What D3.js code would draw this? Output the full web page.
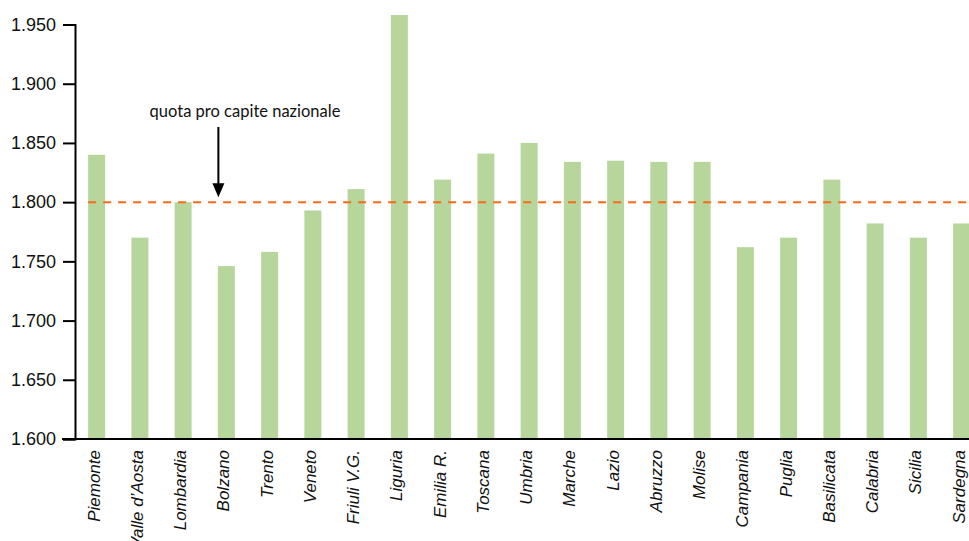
<!DOCTYPE html>
<html>
<head>
<meta charset="utf-8">
<script src="https://cdn.jsdelivr.net/npm/d3@7"></script>
<style>
	body { margin: 0; background: #fff; }
	svg { display: block; font-family: Lato, "Open Sans", sans-serif; }
</style>
</head>
<body>
<script>
/*--data--*/
var regioni = ["Piemonte", "Valle d\u2019Aosta", "Lombardia", "Bolzano", "Trento", "Veneto", "Friuli V.G.",
	"Liguria", "Emilia R.", "Toscana", "Umbria", "Marche", "Lazio", "Abruzzo", "Molise",
	"Campania", "Puglia", "Basilicata", "Calabria", "Sicilia", "Sardegna"];
var quota = [1840, 1770, 1800, 1746, 1758, 1793, 1811, 1958, 1819, 1841, 1850, 1834, 1835, 1834, 1834,
	1762, 1770, 1819, 1782, 1770, 1782];
var quota_nazionale = 1800;
var y_ticks = [1600, 1650, 1700, 1750, 1800, 1850, 1900, 1950];
var nota = "quota pro capite nazionale";

/*--chart--*/
var width = 969, height = 541;
var left = 75, top_y = 24.5, bottom_y = 439;

var it = d3.formatLocale({ decimal: ",", thousands: ".", grouping: [3], currency: ["€", ""] });

var svg = d3.select("body").append("svg")
	.attr("width", width)
	.attr("height", height);

var x = d3.scaleBand()
	.domain(regioni)
	.range([left, left + regioni.length * 43.25])
	.paddingInner(0.607)
	.paddingOuter(0.3035);

var y = d3.scaleLinear()
	.domain([1600, 1950])
	.range([bottom_y, top_y]);

//bars
svg.append("g").selectAll("rect")
	.data(regioni)
	.enter().append("rect")
	.attr("x", function (d) { return x(d); })
	.attr("y", function (d, i) { return y(quota[i]); })
	.attr("width", x.bandwidth())
	.attr("height", function (d, i) { return bottom_y - y(quota[i]); })
	.style("fill", "#b7d69b");

//dashed national line
svg.append("line")
	.attr("x1", x(regioni[0]))
	.attr("x2", width)
	.attr("y1", y(quota_nazionale))
	.attr("y2", y(quota_nazionale))
	.style("stroke", "#fb6a17")
	.style("stroke-width", 2)
	.style("stroke-dasharray", "8,7");

//y axis
var yAxis = svg.append("g")
	.attr("transform", "translate(" + left + ",0)")
	.call(d3.axisLeft(y).tickValues(y_ticks).tickFormat(it.format(",")).tickSize(12).tickPadding(7));
yAxis.select(".domain").style("stroke", "#000").style("stroke-width", 2);
yAxis.selectAll(".tick line").style("stroke", "#000").style("stroke-width", 2);
yAxis.selectAll("text").style("font-size", "18px").style("fill", "#111");

//x axis
var xAxis = svg.append("g")
	.attr("transform", "translate(0," + bottom_y + ")")
	.call(d3.axisBottom(x).tickSize(0).tickPadding(0));
xAxis.select(".domain").attr("d", "M62,0H" + width).style("stroke", "#000").style("stroke-width", 2);
xAxis.selectAll("text")
	.attr("transform", "rotate(-90)")
	.attr("x", -11)
	.attr("y", -3)
	.attr("dy", "0.35em")
	.style("text-anchor", "end")
	.style("font-size", "17px")
	.style("font-style", "italic")
	.style("fill", "#111");

//annotation
var ax = x(regioni[3]) + x.bandwidth() / 2 - 8;
svg.append("text")
	.attr("x", 245)
	.attr("y", 117)
	.attr("text-anchor", "middle")
	.style("font-size", "16.5px")
	.style("fill", "#111")
	.text(nota);

svg.append("line")
	.attr("x1", ax).attr("x2", ax)
	.attr("y1", 127).attr("y2", y(quota_nazionale) - 17)
	.style("stroke", "#000")
	.style("stroke-width", 2);
svg.append("path")
	.attr("d", "M" + (ax - 6) + "," + (y(quota_nazionale) - 19) + "L" + (ax + 6) + "," + (y(quota_nazionale) - 19) + "L" + ax + "," + (y(quota_nazionale) - 5) + "Z")
	.style("fill", "#000");
</script>
</body>
</html>
